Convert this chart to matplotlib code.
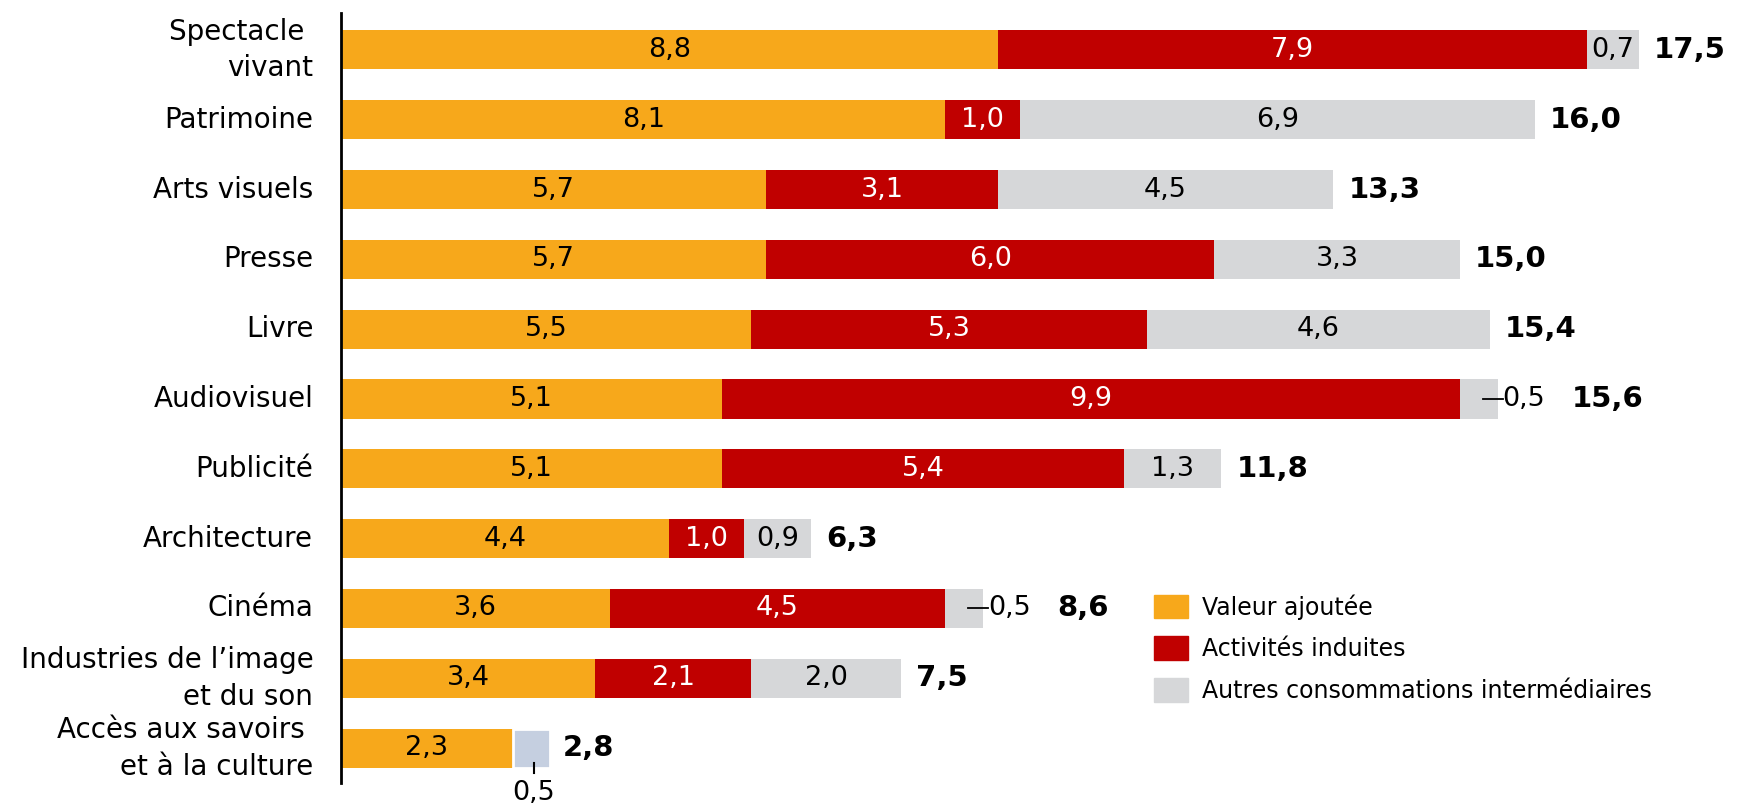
import matplotlib.pyplot as plt
from matplotlib.patches import Patch

# Data
categories = ["Spectacle \nvivant", "Patrimoine", "Arts visuels", "Presse", "Livre",
              "Audiovisuel", "Publicité", "Architecture", "Cinéma",
              "Industries de l\u2019image\net du son", "Accès aux savoirs \net à la culture"]
valeur_ajoutee = [8.8, 8.1, 5.7, 5.7, 5.5, 5.1, 5.1, 4.4, 3.6, 3.4, 2.3]
activites_induites = [7.9, 1.0, 3.1, 6.0, 5.3, 9.9, 5.4, 1.0, 4.5, 2.1, 0.0]
autres_conso = [0.7, 6.9, 4.5, 3.3, 4.6, 0.5, 1.3, 0.9, 0.5, 2.0, 0.5]
totals = [17.5, 16.0, 13.3, 15.0, 15.4, 15.6, 11.8, 6.3, 8.6, 7.5, 2.8]
series_names = ["Valeur ajoutée", "Activités induites", "Autres consommations intermédiaires"]

ORANGE = "#F7A81B"
RED = "#C00000"
GREY = "#D6D7D9"
BLUEGREY = "#C5CFE0"

def fmt(v):
    return f"{v:.1f}".replace(".", ",")

fig = plt.figure(figsize=(17.4, 8.06), dpi=100)
ax = fig.add_axes([0.196, 0.0285, 0.804, 0.9555])

n = len(categories)
ys = list(range(n))
h = 0.56
vsize = 19.5

for i in ys:
    va, ai, ac = valeur_ajoutee[i], activites_induites[i], autres_conso[i]
    last = i == n - 1
    ax.barh(i, va, height=h, color=ORANGE)
    ax.text(va / 2, i, fmt(va), ha="center", va="center", fontsize=vsize, color="black")
    if ai > 0:
        ax.barh(i, ai, left=va, height=h, color=RED)
        ax.text(va + ai / 2, i, fmt(ai), ha="center", va="center", fontsize=vsize, color="white")
    end = va + ai + ac
    if last:
        ax.barh(i, ac, left=va + ai, height=h, color=BLUEGREY, edgecolor="white", linewidth=2)
        xc = va + ai + ac / 2 + 0.03
        ax.plot([xc, xc], [i + 0.21, i + 0.36], color="black", lw=1.5)
        ax.text(xc, i + 0.46, fmt(ac), ha="center", va="top", fontsize=vsize)
        ax.text(end + 0.17, i, fmt(totals[i]), ha="left", va="center",
                fontsize=21, fontweight="bold")
    elif ac < 0.6:
        ax.barh(i, ac, left=va + ai, height=h, color=GREY)
        ax.plot([end - 0.2, end + 0.07], [i, i], color="black", lw=1.3)
        ax.text(end + 0.07, i, fmt(ac), ha="left", va="center", fontsize=vsize)
        ax.text(end + 1.0, i, fmt(totals[i]), ha="left", va="center",
                fontsize=21, fontweight="bold")
    else:
        ax.barh(i, ac, left=va + ai, height=h, color=GREY)
        ax.text(va + ai + ac / 2, i, fmt(ac), ha="center", va="center", fontsize=vsize)
        ax.text(end + 0.2, i, fmt(totals[i]), ha="left", va="center",
                fontsize=21, fontweight="bold")

ax.set_xlim(0, 18.75)
ax.set_ylim(n - 0.5, -0.53)
ax.set_yticks(ys)
ax.set_yticklabels(categories, fontsize=20)
for lbl in ax.get_yticklabels():
    lbl.set_linespacing(1.4)
    lbl.set_verticalalignment("center")
ax.tick_params(axis="y", length=0, pad=20)
ax.set_xticks([])
for s in ["top", "right", "bottom"]:
    ax.spines[s].set_visible(False)
ax.spines["left"].set_linewidth(2)

handles = [Patch(color=c) for c in [ORANGE, RED, GREY]]
ax.legend(handles, series_names, loc="upper left", bbox_to_anchor=(1154 / 1740, 1 - 594 / 806),
          bbox_transform=fig.transFigure, frameon=False, fontsize=17,
          handlelength=1.45, handleheight=1.15, handletextpad=0.6, labelspacing=0.72,
          borderpad=0, borderaxespad=0)

fig.savefig("out.png", dpi=100)
